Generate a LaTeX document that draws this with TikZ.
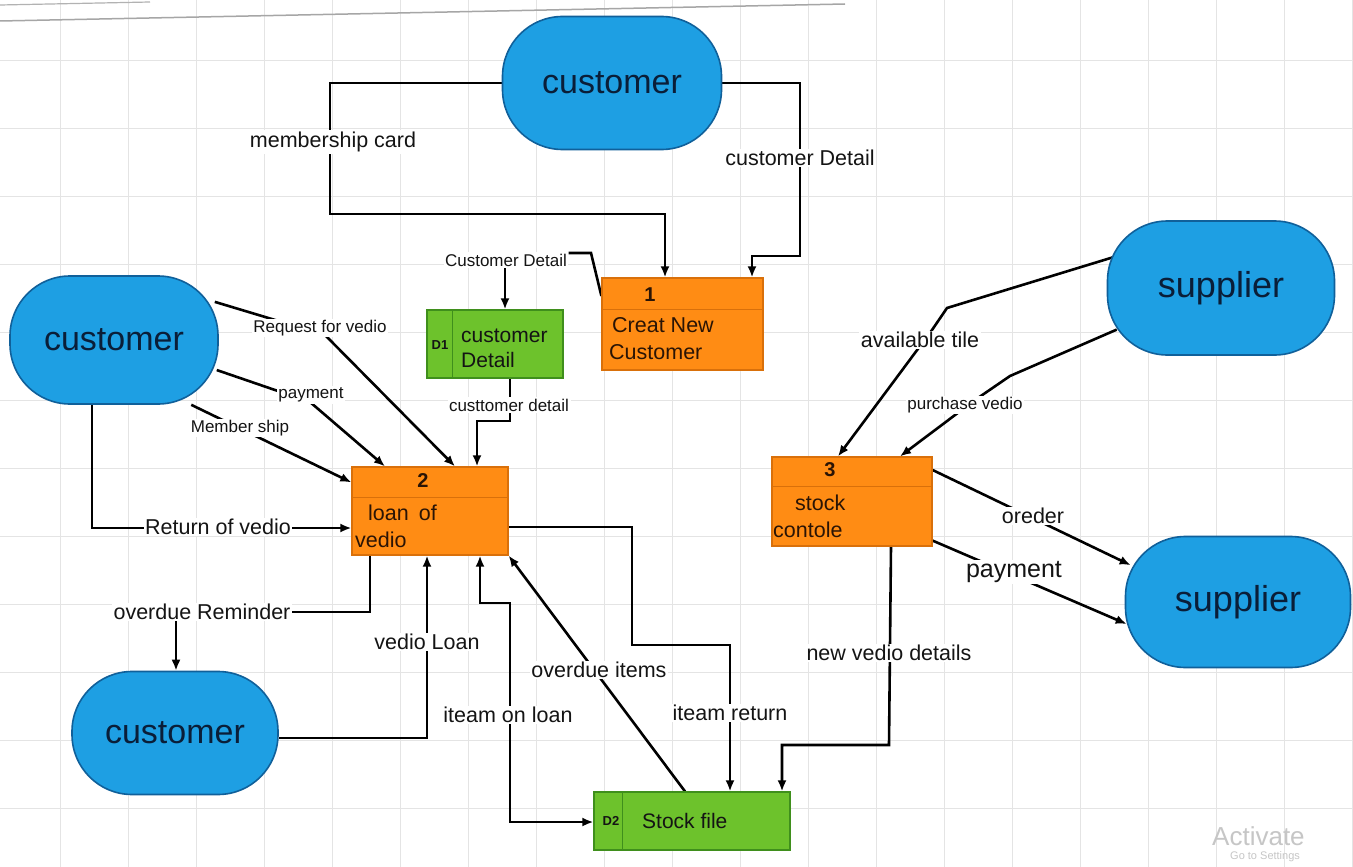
\documentclass[tikz,border=0pt]{standalone}
\usepackage{fontspec}
\setmainfont{Liberation Sans}
\usetikzlibrary{arrows.meta,backgrounds}
\definecolor{pillfill}{HTML}{1E9FE3}
\definecolor{pilldraw}{HTML}{10609A}
\definecolor{procfill}{HTML}{FF8C14}
\definecolor{procdraw}{HTML}{D9700A}
\definecolor{storefill}{HTML}{6DC22C}
\definecolor{storedraw}{HTML}{3F8F1C}
\definecolor{gridc}{HTML}{E4E4E4}
\definecolor{inktext}{HTML}{141414}
\definecolor{pilltext}{HTML}{0A1E38}
\definecolor{proctext}{HTML}{2A1405}
\begin{document}
\begin{tikzpicture}[x=1pt,y=-1pt,
  pill/.style={draw=pilldraw, line width=1.6pt, fill=pillfill, rounded corners=60pt, text=pilltext, inner sep=0pt},
  proc/.style={draw=procdraw, line width=1.2pt, fill=procfill, inner sep=0pt},
  store/.style={draw=storedraw, line width=1.2pt, fill=storefill, inner sep=0pt},
  ptext/.style={font=\fontsize{21.5}{27}\selectfont, align=left, inner sep=0pt, text=proctext},
  num/.style={font=\bfseries\fontsize{20}{24}\selectfont, inner sep=0pt, text=proctext},
  dtag/.style={font=\bfseries\fontsize{13}{15}\selectfont, inner sep=0pt, text=inktext},
  stext/.style={font=\fontsize{21}{25}\selectfont, align=left, inner sep=0pt, text=inktext},
  lblS/.style={font=\fontsize{17}{20}\selectfont, fill=white, inner sep=1.5pt, text=inktext},
  lblL/.style={font=\fontsize{21.5}{25}\selectfont, fill=white, inner sep=1.5pt, text=inktext},
  flow/.style={line width=2.6pt, draw=black, line join=miter},
  arr/.style={flow, -{Latex[length=11pt,width=9pt]}},
  biarr/.style={flow, {Latex[length=11pt,width=9pt]}-{Latex[length=11pt,width=9pt]}}
]
\useasboundingbox (0,0) rectangle (1353,867);
\clip (0,0) rectangle (1353,867);
\begin{scope}[on background layer]
  \fill[white] (0,0) rectangle (1353,867);
  \foreach \gx in {60,128,...,1353} \draw[gridc, line width=0.8pt] (\gx,0) -- (\gx,867);
  \foreach \gy in {60,128,...,867} \draw[gridc, line width=0.8pt] (0,\gy) -- (1353,\gy);
  \draw[line width=1.5pt, color=gray!70] (0,21) -- (845,4);
  \draw[line width=1.2pt, color=gray!60] (0,5) -- (150,2);
\end{scope}

% external entities
\node[pill, minimum width=219pt, minimum height=133pt, font=\fontsize{34}{40}\selectfont] (cTop) at (612,83) {customer};
\node[pill, minimum width=208pt, minimum height=128pt, font=\fontsize{34}{40}\selectfont] (cLeft) at (114,340) {customer};
\node[pill, minimum width=206pt, minimum height=123pt, font=\fontsize{34}{40}\selectfont] (cBot) at (175,733) {customer};
\node[pill, minimum width=227pt, minimum height=134pt, font=\fontsize{36}{42}\selectfont] (sTop) at (1221,288) {supplier};
\node[pill, minimum width=225pt, minimum height=131pt, font=\fontsize{36}{42}\selectfont] (sBot) at (1238,602) {supplier};

% processes
\node[proc, minimum width=161pt, minimum height=92pt] (P1) at (682.5,324) {};
\draw[procdraw, line width=1.2pt] ([yshift=-32pt]P1.north west) -- ([yshift=-32pt]P1.north east);
\node[num] (n1) at (650,295) {1};
\node[ptext, anchor=west] (t1) at (609,339) {\hspace*{3pt}Creat New\\Customer};

\node[proc, minimum width=156pt, minimum height=88pt] (P2) at (430,511) {};
\draw[procdraw, line width=1pt] ([yshift=-31pt]P2.north west) -- ([yshift=-31pt]P2.north east);
\node[num] (n2) at (423,481) {2};
\node[ptext, anchor=west] (t2) at (355,526) {\hspace*{13pt}loan\hspace{10pt}of\\vedio};

\node[proc, minimum width=160pt, minimum height=89pt] (P3) at (852,501.5) {};
\draw[procdraw, line width=1.2pt] ([yshift=-30pt]P3.north west) -- ([yshift=-30pt]P3.north east);
\node[num] (n3) at (830,470) {3};
\node[ptext, anchor=west] (t3) at (773,516.5) {\hspace*{22pt}stock\\contole};

% data stores
\node[store, minimum width=136pt, minimum height=68pt] (D1) at (495,344) {};
\draw[storedraw, line width=1.2pt] ([xshift=26pt]D1.north west) -- ([xshift=26pt]D1.south west);
\node[dtag] (d1t) at (440,345) {D1};
\node[stext, anchor=west] (d1x) at (461,348) {customer\\Detail};

\node[store, minimum width=196pt, minimum height=58pt] (D2) at (692,821) {};
\draw[storedraw, line width=1.2pt] ([xshift=29pt]D2.north west) -- ([xshift=29pt]D2.south west);
\node[dtag] (d2t) at (611,821) {D2};
\node[stext, anchor=west] (d2x) at (642,821) {Stock file};

% labels
\node[lblL] (lmc) at (333,142) {membership card};
\node[lblL] (lcdt) at (800,158) {customer Detail};
\node[lblS] (lcd) at (506,260) {Customer Detail};
\node[lblS] (lcd2) at (509,405) {custtomer detail};
\node[lblS] (lreq) at (320,328) {Request for vedio};
\node[lblS] (lpay) at (311,395) {payment};
\node[lblS] (lms) at (240,428) {Member ship};
\node[lblL] (lret) at (218,527) {Return of vedio};
\node[lblL] (lovr) at (202,612) {overdue Reminder};
\node[lblL] (lvl) at (427,642) {vedio Loan};
\node[lblL] (liol) at (508,715) {iteam on loan};
\node[lblL] (loi) at (599,670) {overdue items};
\node[lblL] (lir) at (730,713) {iteam return};
\node[lblL] (lnvd) at (889,653) {new vedio details};
\node[lblL] (lat) at (920,340) {available tile};
\node[lblS] (lpv) at (965,405) {purchase vedio};
\node[lblL] (lord) at (1033,516) {oreder};
\node[lblL, font=\fontsize{25}{29}\selectfont] (lpay2) at (1014,572) {payment};

% watermark
\node[anchor=west, text=gray!45, font=\fontsize{26}{30}\selectfont, inner sep=0pt] (wm) at (1212,836) {Activate};
\node[anchor=west, text=gray!45, font=\fontsize{11}{13}\selectfont, inner sep=0pt] (wm2) at (1230,857) {Go to Settings};

% connectors
\begin{scope}[on background layer]
  \draw[arr] (cTop.west) -- (cTop.west -| 330,0) -- (330,214) -- (665,214) -- (665,0 |- P1.north);
  \draw[arr] (cTop.east) -- (cTop.east -| 800,0) -- (800,256) -- (752,256) -- (752,0 |- P1.north);
  \draw[flow] ([yshift=28pt]P1.west) -- (591,253) -- (lcd.east |- 0,253);
  \draw[arr] (505,0 |- lcd.south) -- (505,0 |- D1.north);
  \draw[arr] (510,0 |- D1.south) -- (510,421) -- (477,421) -- (477,0 |- P2.north);
  \draw[arr] ([xshift=-4pt]cLeft.20) -- (325,335) -- (455,0 |- P2.north);
  \draw[arr] ([xshift=-2pt]cLeft.-16) -- (310,402) -- (385,0 |- P2.north);
  \draw[arr] (cLeft.-40) -- ([yshift=-16pt]P2.north west);
  \draw[arr] (92,0 |- cLeft.south) -- (92,528) -- (P2.west |- 0,528);
  \draw[arr] (370,0 |- P2.south) -- (370,612) -- (176,612) -- (176,0 |- cBot.north);
  \draw[arr] (cBot.east |- 0,738) -- (427,738) -- (427,0 |- P2.south);
  \draw[biarr] (480,0 |- P2.south) -- (480,603) -- (510,603) -- (510,822) -- (D2.west |- 0,822);
  \draw[arr] (685,0 |- D2.north) -- (P2.south east);
  \draw[arr] (P2.east |- 0,527) -- (632,527) -- (632,645) -- (730,645) -- (730,0 |- D2.north);
  \draw[arr] (891,0 |- P3.south) -- (889,745) -- (782,745) -- (782,0 |- D2.north);
  \draw[arr] ([xshift=6pt]sTop.165) -- (947,308) -- (932,330) -- (838,0 |- P3.north);
  \draw[arr] ([xshift=10pt]sTop.200) -- (1010,376) -- (975,400) -- (900,0 |- P3.north);
  \draw[arr] (P3.east |- 0,470) -- ([xshift=6pt]sBot.162);
  \draw[arr] ([yshift=6pt]P3.south east) -- ([xshift=2pt]sBot.191);
\end{scope}
\end{tikzpicture}
\end{document}
